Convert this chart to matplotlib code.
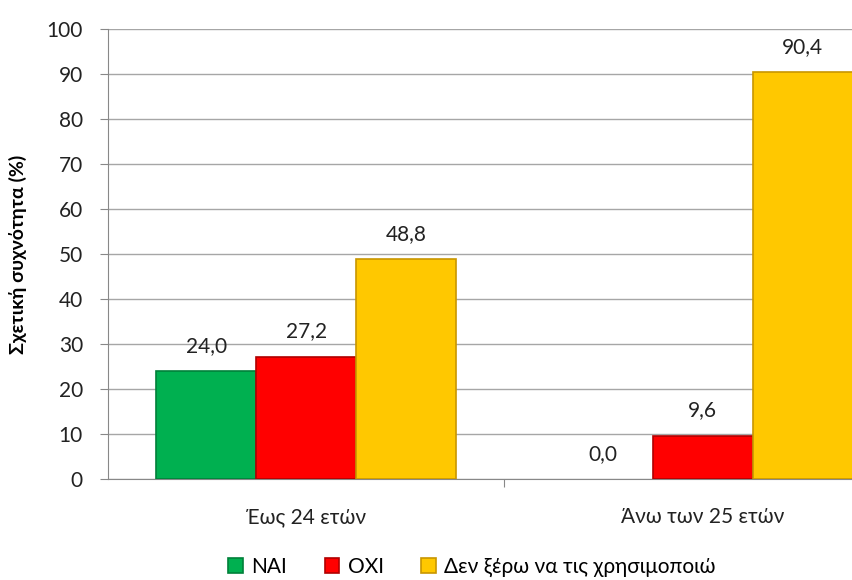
import matplotlib
matplotlib.use("Agg")
import matplotlib.pyplot as plt
import numpy as np

plt.rcParams['font.family'] = ['Lato', 'DejaVu Sans']

categories = ["Έως 24 ετών", "Άνω των 25 ετών"]
series_names = ["ΝΑΙ", "ΟΧΙ", "Δεν ξέρω να τις χρησιμοποιώ"]
nai = [24.0, 0.0]
oxi = [27.2, 9.6]
den_xero = [48.8, 90.4]
colors = ["#00B050", "#FF0000", "#FFC800"]
edges = ["#00803A", "#B00000", "#C89600"]

fig = plt.figure(figsize=(8.53, 5.8), dpi=100)
ax = fig.add_axes([108 / 853, 1 - 479 / 580, 793 / 853, 450 / 580])

x = np.arange(len(categories))
w = 0.252
for i, (vals, name) in enumerate(zip([nai, oxi, den_xero], series_names)):
    pos = x + (i - 1) * w
    bars = ax.bar(pos, vals, width=w, color=colors[i], edgecolor=edges[i],
                  linewidth=1.2, label=name, zorder=3)
    for b, v in zip(bars, vals):
        if v == 0:
            b.set_linewidth(0)
        ax.annotate(f"{v:.1f}".replace(".", ","),
                    (b.get_x() + b.get_width() / 2, v),
                    xytext=(0, 11), textcoords="offset points",
                    ha="center", va="bottom", fontsize=15, color="#222222")

ax.set_xlim(-0.5, 1.5)
ax.set_ylim(0, 100)
ax.set_yticks(range(0, 101, 10))
ax.tick_params(axis="y", labelsize=15, length=6, color="#888888", pad=12,
               labelcolor="#222222")
ax.set_xticks([0.5])
ax.set_xticklabels([""])
ax.tick_params(axis="x", length=6, color="#888888")
for xi, c in zip(x, categories):
    ax.text(xi, -8.4, c, ha="center", va="center", fontsize=15,
            color="#222222", transform=ax.transData)
ax.grid(axis="y", color="#A6A6A6", linewidth=1, zorder=0)
for s in ["top", "right"]:
    ax.spines[s].set_visible(False)
for s in ["left", "bottom"]:
    ax.spines[s].set_color("#888888")

fig.text(18 / 853, 1 - 254 / 580, "Σχετική συχνότητα (%)", rotation=90,
         ha="center", va="center", fontsize=14, fontweight="bold")

fig.legend(loc="center", bbox_to_anchor=(472 / 853, 1 - 567 / 580),
           ncol=3, frameon=False, fontsize=15, handlelength=0.7,
           handleheight=0.7, handletextpad=0.4, columnspacing=1.8)

fig.savefig("out.png", dpi=100)
